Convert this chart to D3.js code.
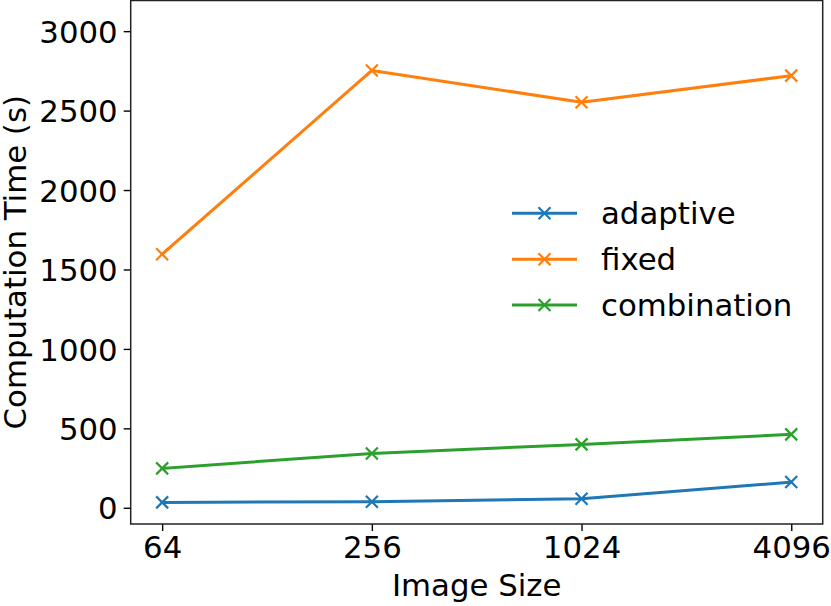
<!DOCTYPE html>
<html>
<head>
<meta charset="utf-8">
<script src="https://cdn.jsdelivr.net/npm/d3@7"></script>
<style>
  html, body { margin: 0; padding: 0; background: #fff; }
  svg { display: block; }
  text { font-family: "DejaVu Sans", sans-serif; fill: #000; }
</style>
</head>
<body>
<svg id="chart" width="831" height="606"></svg>
<script>
const categories = ["64", "256", "1024", "4096"];
const seriesNames = ["adaptive", "fixed", "combination"];
const adaptive = [34, 38, 57, 162];
const fixed = [1596, 2753, 2552, 2720];
const combination = [248, 342, 399, 462];
const yTicks = [0, 500, 1000, 1500, 2000, 2500, 3000];
const colors = ["#1f77b4", "#ff7f0e", "#2ca02c"];
const seriesValues = [adaptive, fixed, combination];

const W = 831, H = 606;
const plot = { left: 130.7, right: 822.7, top: 0.5, bottom: 524 };
const svg = d3.select("#chart");

const x = d3.scaleLinear().domain([-0.15, 3.15]).range([plot.left, plot.right]);
const y = d3.scaleLinear().domain([-102, 3193]).range([plot.bottom, plot.top]);

const fs = 30.8;

// axes
const gx = svg.append("g").attr("transform", `translate(0,${plot.bottom})`)
  .call(d3.axisBottom(x).tickValues(d3.range(categories.length)).tickFormat(i => categories[i]).tickSize(7).tickPadding(4));
const gy = svg.append("g").attr("transform", `translate(${plot.left},0)`)
  .call(d3.axisLeft(y).tickValues(yTicks).tickFormat(d3.format("d")).tickSize(7).tickPadding(6));
[gx, gy].forEach(g => {
  g.select(".domain").remove();
  g.selectAll(".tick line").attr("stroke", "#000").attr("stroke-width", 1.4);
  g.selectAll(".tick text").attr("font-size", fs).attr("font-family", "DejaVu Sans").attr("fill", "#000");
});
gy.selectAll(".tick text").attr("dy", "0.36em");
gx.selectAll(".tick text").attr("dy", "0.76em");

// frame
svg.append("rect").attr("x", plot.left).attr("y", plot.top)
  .attr("width", plot.right - plot.left).attr("height", plot.bottom - plot.top)
  .attr("fill", "none").attr("stroke", "#222").attr("stroke-width", 1.5);

// lines
const line = d3.line().x((d, i) => x(i)).y(d => y(d));
const ms = 6;
seriesValues.forEach((vals, s) => {
  const g = svg.append("g");
  g.append("path").datum(vals).attr("d", line).attr("fill", "none")
    .attr("stroke", colors[s]).attr("stroke-width", 3).attr("stroke-linejoin", "round").attr("stroke-linecap", "square");
  vals.forEach((v, i) => {
    const cx = x(i), cy = y(v);
    g.append("path").attr("d", `M${cx-ms},${cy-ms}L${cx+ms},${cy+ms}M${cx-ms},${cy+ms}L${cx+ms},${cy-ms}`)
      .attr("stroke", colors[s]).attr("stroke-width", 2.2).attr("fill", "none");
  });
});

// axis labels
svg.append("text").attr("x", (plot.left + plot.right) / 2).attr("y", 596)
  .attr("text-anchor", "middle").attr("font-size", fs).text("Image Size");
svg.append("text").attr("transform", `translate(25.5,${(plot.top + plot.bottom) / 2}) rotate(-90)`)
  .attr("text-anchor", "middle").attr("font-size", fs).text("Computation Time (s)");

// legend
const legY = [213.3, 259.3, 305];
seriesNames.forEach((name, s) => {
  const g = svg.append("g");
  const ly = legY[s];
  g.append("line").attr("x1", 512).attr("x2", 577).attr("y1", ly).attr("y2", ly)
    .attr("stroke", colors[s]).attr("stroke-width", 3);
  const cx = 544.5;
  g.append("path").attr("d", `M${cx-ms},${ly-ms}L${cx+ms},${ly+ms}M${cx-ms},${ly+ms}L${cx+ms},${ly-ms}`)
    .attr("stroke", colors[s]).attr("stroke-width", 2.2);
  g.append("text").attr("x", 601).attr("y", ly).attr("dy", "0.36em").attr("font-size", fs).text(name);
});
</script>
</body>
</html>
